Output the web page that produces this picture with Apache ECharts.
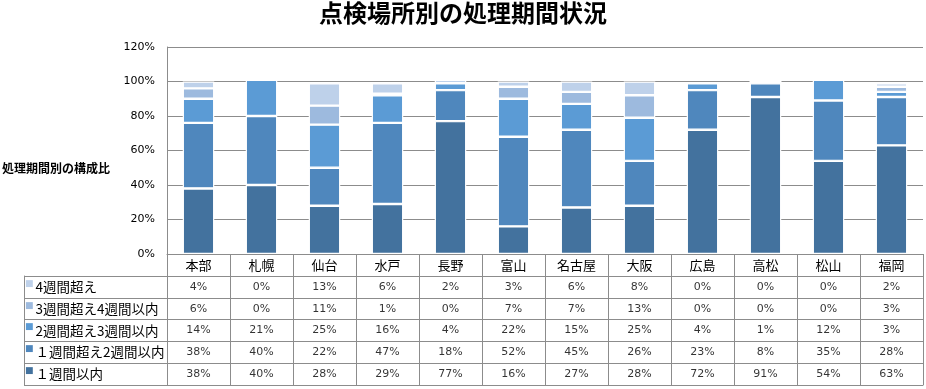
<!DOCTYPE html>
<html><head><meta charset="utf-8">
<script src="https://cdn.jsdelivr.net/npm/echarts@6/dist/echarts.min.js"></script>
<style>html,body{margin:0;padding:0;background:#fff}#c{width:926px;height:389px}</style>
</head><body><div id="c"></div>
<script>
var stations = ['本部','札幌','仙台','水戸','長野','富山','名古屋','大阪','広島','高松','松山','福岡'];
var seriesNames = ['１週間以内','１週間超え2週間以内','2週間超え3週間以内','3週間超え4週間以内','4週間超え'];
var w1   = [38,40,28,29,77,16,27,28,72,91,54,63];
var w1_2 = [38,40,22,47,18,52,45,26,23,8,35,28];
var w2_3 = [14,21,25,16,4,22,15,25,4,1,12,3];
var w3_4 = [6,0,11,1,0,7,7,13,0,0,0,3];
var w4   = [4,0,13,6,2,3,6,8,0,0,0,2];
var yTicks = [0,20,40,60,80,100,120];

var values = [w1, w1_2, w2_3, w3_4, w4];
var colors = ['#43729e','#4f87bd','#5b9bd5','#9dbade','#bed1ea'];
var tableRows = [4,3,2,1,0]; // top row first
var lineC = '#8c8c8c';

var rich = {t:{fontSize:13.5,fontFamily:'Noto Sans CJK JP',color:'#000',padding:[0,0,0,2],verticalAlign:'middle'}};
colors.forEach(function(c,i){ rich['q'+i] = {fontSize:9,fontFamily:'DejaVu Sans',color:c,padding:[0,0,7,0],verticalAlign:'middle'}; });

var bars = values.map(function(v,i){
  return {name:seriesNames[i], type:'bar', stack:'a', barWidth:'50%', xAxisIndex:0, yAxisIndex:0,
    data:v.map(function(x){return x/100;}),
    itemStyle:{color:colors[i], borderColor:'#fff', borderWidth:1.2},
    emphasis:{disabled:true}};
});
var cells = [];
tableRows.forEach(function(si,r){
  values[si].forEach(function(x,c){ cells.push([c, r, x]); });
});
bars.push({type:'scatter', xAxisIndex:1, yAxisIndex:1, symbolSize:1, silent:true,
  itemStyle:{color:'transparent'}, data:cells,
  label:{show:true, position:'inside', formatter:function(p){return p.value[2]+'%';},
    fontSize:11, fontFamily:'DejaVu Sans', color:'#000'}});

var chart = echarts.init(document.getElementById('c'), null, {renderer:'canvas'});
chart.setOption({
  animation:false,
  backgroundColor:'#fff',
  title:[
    {text:'点検場所別の処理期間状況', left:'center', top:1, padding:0,
     textStyle:{fontSize:24, fontWeight:'bold', fontFamily:'Noto Sans CJK JP', color:'#000'}},
    {text:'処理期間別の構成比', left:2, top:162, padding:0,
     textStyle:{fontSize:12, fontWeight:'bold', fontFamily:'Noto Sans CJK JP', color:'#000'}}
  ],
  grid:[
    {left:167, right:3, top:47, height:207},
    {left:167, right:3, top:276, height:109}
  ],
  xAxis:[
    {type:'category', gridIndex:0, data:stations,
     axisLine:{show:true, lineStyle:{color:lineC}},
     axisTick:{show:true, length:131, interval:0, lineStyle:{color:lineC}},
     axisLabel:{interval:0, margin:5, fontSize:13, fontFamily:'Noto Sans CJK JP', color:'#000'}},
    {type:'category', gridIndex:1, data:stations, position:'top',
     axisLine:{show:true, lineStyle:{color:lineC}}, axisTick:{show:false}, axisLabel:{show:false},
     splitLine:{show:true, interval:0, lineStyle:{color:lineC}}},
    {type:'category', gridIndex:1, data:stations, position:'bottom',
     axisLine:{show:true, lineStyle:{color:lineC}}, axisTick:{show:false}, axisLabel:{show:false}}
  ],
  yAxis:[
    {type:'value', gridIndex:0, min:0, max:1.2, interval:0.2,
     axisLine:{show:true, lineStyle:{color:lineC}}, axisTick:{show:false},
     splitLine:{lineStyle:{color:lineC}},
     axisLabel:{margin:12, fontSize:11, fontFamily:'DejaVu Sans', color:'#000',
       formatter:function(v){return Math.round(v*100)+'%';}}},
    {type:'category', gridIndex:1, inverse:true, data:tableRows.map(function(i){return seriesNames[i];}),
     axisLine:{show:true, lineStyle:{color:lineC}},
     axisTick:{show:true, length:143, interval:0, lineStyle:{color:lineC}},
     splitLine:{show:true, interval:0, lineStyle:{color:lineC}},
     axisLabel:{interval:0, align:'left', margin:142, rich:rich,
       formatter:function(v,idx){return '{q'+tableRows[idx]+'|■}{t|'+v+'}';}}},
    {type:'category', gridIndex:1, inverse:true, position:'left', offset:143,
     data:tableRows.map(function(i){return seriesNames[i];}),
     axisLine:{show:true, lineStyle:{color:lineC}}, axisTick:{show:false}, axisLabel:{show:false}}
  ],
  series:bars
});
</script></body></html>
